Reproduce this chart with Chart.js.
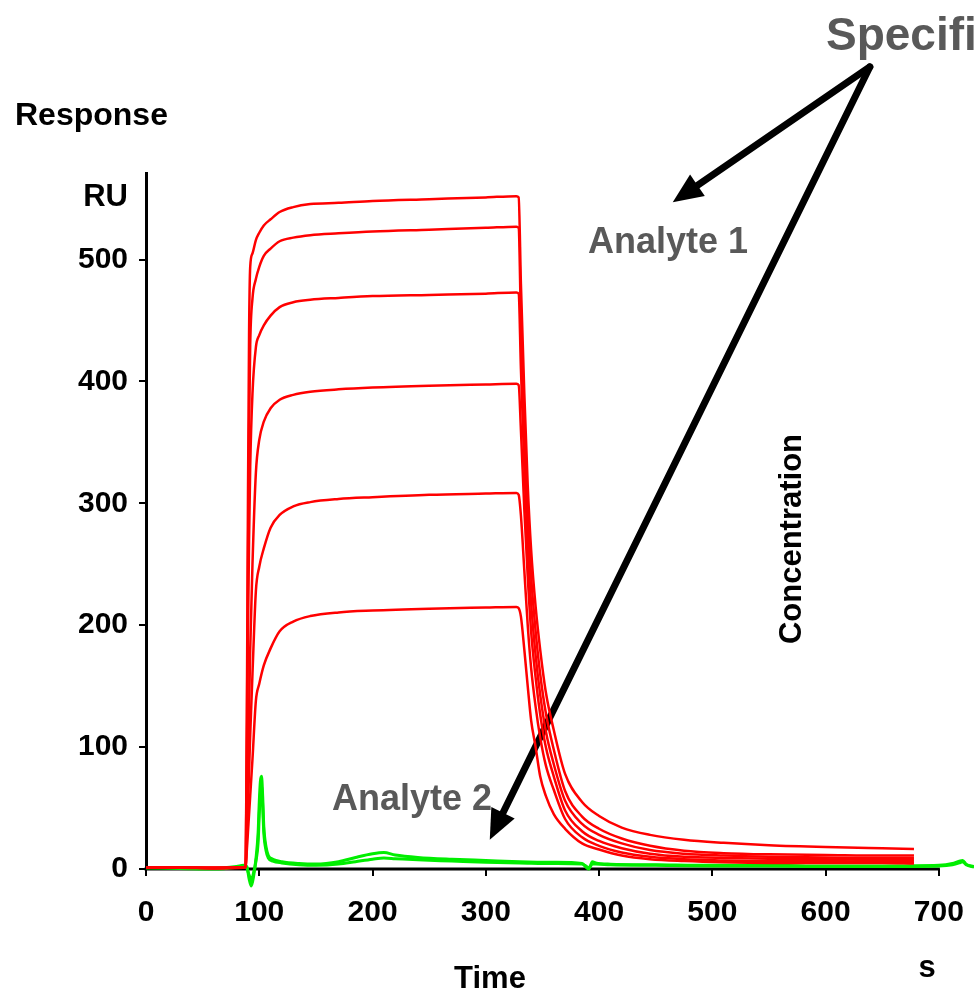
<!DOCTYPE html>
<html>
<head>
<meta charset="utf-8">
<script src="https://cdn.jsdelivr.net/npm/chart.js@4.4.1/dist/chart.umd.min.js"></script>
<style>
  html, body { margin: 0; padding: 0; background: #fff; }
  #wrap { width: 974px; height: 994px; position: relative; }
</style>
</head>
<body>
<div id="wrap"><canvas id="myChart"></canvas></div>
<script>
// time axis (s) for the red sensorgrams: association then dissociation
const redTime = [0, 30, 60, 86, 88, 89, 90, 91, 92, 94, 97, 100, 104, 110, 118, 130, 145, 170, 200, 250, 300, 327,
                 329, 331, 334, 337, 340, 344, 348, 353, 360, 370, 385, 400, 420, 445, 475, 510, 550, 600, 650, 678];
// Analyte 1, six concentrations (RU)
const red1 = [1, 1.5, 0.5, 1, 2, 120, 300, 440, 494, 505, 516, 522, 528, 533, 539, 543, 545.5, 546.5, 548, 549.5, 551, 552,
              551, 480, 390, 315, 262, 215, 180, 145, 114, 78, 55, 43.5, 34, 28, 24, 21.5, 19.5, 18, 17, 16.5];
const red2 = [1, 1, 1, 1, 2, 100, 250, 360, 430, 468, 484, 494, 503, 509, 515, 518, 520, 521.5, 523, 524.5, 526, 527,
              526, 450, 360, 290, 240, 195, 160, 128, 98, 64, 43, 33, 25, 19, 15, 13, 12, 11.5, 11, 11];
const red3 = [1, 1, 0.5, 1, 2, 80, 190, 270, 330, 390, 428, 438, 446, 454, 461, 465, 467, 468.5, 470, 471, 472, 473,
              472, 410, 330, 265, 218, 175, 143, 113, 86, 56, 37, 28, 21, 15.5, 12.5, 11, 10, 9.5, 9, 9];
const red4 = [1, 1, 1, 1, 2, 35, 80, 130, 180, 250, 325, 352, 367, 378, 385, 389, 391.5, 393.5, 395, 396.5, 397.5, 398,
              397, 360, 295, 240, 195, 157, 127, 100, 76, 48, 31, 23, 17, 12.5, 10, 9, 8.5, 8, 7.5, 7.5];
const red5 = [1, 1, 1, 1, 2, 25, 50, 80, 110, 160, 228, 248, 263, 280, 290.5, 297.5, 301, 303.5, 305, 307, 308, 308.5,
              307, 290, 245, 200, 165, 133, 108, 85, 65, 41, 26, 19, 13.5, 10, 8, 7, 6.5, 6.5, 6, 6];
const red6 = [1, 1, 1, 1, 2, 15, 30, 45, 60, 90, 138, 152, 167, 181, 195, 203, 207.5, 210.5, 212, 213.5, 214.5, 215,
              214, 207, 180, 150, 122, 100, 76, 60, 45, 33, 21, 16, 11, 8, 6.5, 5.5, 5, 5, 5, 4.5];

// Analyte 2, two runs
const greenTime = [0, 30, 60, 80, 86, 89, 91, 93, 95, 97, 99, 100, 101, 102, 103, 104, 106, 108, 112, 120, 135, 150, 170, 185,
                   200, 210, 220, 240, 270, 300, 330, 360, 385, 389, 391, 394, 397, 410, 450, 500, 550, 600, 650, 700,
                   712, 718, 721, 724, 731];
const greenA = [1, 1, 0.5, 2, 3, 2, -8, -14, -6, 8, 30, 55, 72, 76, 60, 35, 18, 11, 8, 6, 4.5, 4, 6, 9.5,
                12.5, 13.5, 11.5, 9.5, 8, 7, 6, 5.5, 4.5, 1, 0, 6, 5, 4, 3.5, 3, 3, 2.5, 2.5, 3,
                4.5, 6.5, 7, 4, 2];
const greenB = [1, 0.5, 0, 1.5, 2.5, 1, -5, -9, -3, 6, 22, 45, 62, 68, 52, 30, 15, 9, 6.5, 5, 3.5, 3, 4, 6,
                8, 9, 8.5, 7.5, 6.5, 5.5, 5, 4.5, 4, 2, 1, 4, 4, 3.5, 3, 2.5, 2.5, 2, 2, 2.5,
                3.5, 5, 6, 3.5, 1.5];

const xTicks = [0, 100, 200, 300, 400, 500, 600, 700];
const yTicks = [0, 100, 200, 300, 400, 500];
const xAxisEnd = 700;   // the drawn x axis line stops at the last tick

// arrows, in data units (from the "Specifi..." label to each analyte)
const arrowFrom = [639, 658];
const arrowTo1 = [465, 547];
const arrowTo2 = [303.5, 24];

const FONT = '"Liberation Sans", Arial, sans-serif';
const GRAY = '#595959';

function pts(t, v) {
    return t.map((x, i) => ({ x: x, y: v[i] }));
}

const redSets = [red1, red2, red3, red4, red5, red6].map(v => ({
    data: pts(redTime, v),
    borderColor: '#ff0000',
    borderWidth: 2.5,
    pointRadius: 0,
    cubicInterpolationMode: 'monotone',
    clip: false
}));
const greenSets = [greenA, greenB].map(v => ({
    data: pts(greenTime, v),
    borderColor: '#00ee00',
    borderWidth: 3,
    pointRadius: 0,
    cubicInterpolationMode: 'monotone',
    clip: false
}));

function arrow(ctx, x1, y1, x2, y2) {
    const ang = Math.atan2(y2 - y1, x2 - x1);
    const head = 30, half = 13;
    const bx = x2 - Math.cos(ang) * head;
    const by = y2 - Math.sin(ang) * head;
    ctx.beginPath();
    ctx.moveTo(x1, y1);
    ctx.lineTo(bx, by);
    ctx.stroke();
    ctx.beginPath();
    ctx.moveTo(x2, y2);
    ctx.lineTo(bx + Math.sin(ang) * half, by - Math.cos(ang) * half);
    ctx.lineTo(bx - Math.sin(ang) * half, by + Math.cos(ang) * half);
    ctx.closePath();
    ctx.fill();
}

const annotations = {
    id: 'annotations',
    beforeDatasetsDraw(chart) {
        const ctx = chart.ctx;
        const sx = chart.scales.x, sy = chart.scales.y;
        const px = p => [sx.getPixelForValue(p[0]), sy.getPixelForValue(p[1])];
        ctx.save();
        // x axis line, only up to the last tick
        const y0 = sy.getPixelForValue(0);
        ctx.strokeStyle = '#000';
        ctx.lineWidth = 3;
        ctx.beginPath();
        ctx.moveTo(sx.getPixelForValue(0) - 1.5, y0);
        ctx.lineTo(sx.getPixelForValue(xAxisEnd) + 1, y0);
        ctx.stroke();

        const a = px(arrowFrom), b = px(arrowTo1), c = px(arrowTo2);
        ctx.fillStyle = '#000';
        ctx.lineWidth = 7;
        ctx.lineCap = 'round';
        arrow(ctx, a[0], a[1], b[0], b[1]);
        arrow(ctx, a[0], a[1], c[0], c[1]);
        ctx.restore();
    },
    afterDraw(chart) {
        const ctx = chart.ctx;
        ctx.save();
        ctx.fillStyle = '#000';
        ctx.textBaseline = 'alphabetic';
        ctx.font = 'bold 32px ' + FONT;
        ctx.textAlign = 'left';
        ctx.fillText('Response', 15, 125);
        ctx.font = 'bold 31px ' + FONT;
        ctx.textAlign = 'right';
        ctx.fillText('RU', 128, 206);
        ctx.textAlign = 'center';
        ctx.fillText('Time', 490, 988);
        ctx.fillText('s', 927, 977);

        ctx.save();
        ctx.translate(801, 539);
        ctx.rotate(-Math.PI / 2);
        ctx.font = 'bold 31px ' + FONT;
        ctx.textAlign = 'center';
        ctx.fillText('Concentration', 0, 0);
        ctx.restore();

        ctx.fillStyle = GRAY;
        ctx.font = 'bold 36px ' + FONT;
        ctx.textAlign = 'center';
        ctx.fillText('Analyte 1', 668, 253);
        ctx.fillText('Analyte 2', 412, 810);
        ctx.font = 'bold 46px ' + FONT;
        ctx.textAlign = 'left';
        ctx.fillText('Specificity', 826, 50);
        ctx.restore();
    }
};

const chart = new Chart(document.getElementById('myChart'), {
    type: 'line',
    data: { datasets: redSets.concat(greenSets) },
    options: {
        responsive: true,
        maintainAspectRatio: false,
        animation: false,
        layout: { padding: { top: 173, right: 0, left: 0, bottom: 0 } },
        plugins: { legend: { display: false }, tooltip: { enabled: false } },
        scales: {
            x: {
                type: 'linear',
                min: 0,
                max: 731,
                afterBuildTicks: s => { s.ticks = xTicks.map(v => ({ value: v })); },
                afterFit: s => { s.height = 125; s.paddingRight = 0; s.paddingLeft = 0; },
                ticks: { color: '#000', padding: 19, font: { family: FONT, size: 30, weight: 'bold' } },
                grid: { drawOnChartArea: false, drawTicks: true, tickLength: 7, color: '#000', lineWidth: 2 },
                border: { display: false }
            },
            y: {
                type: 'linear',
                min: 0,
                max: 571,
                afterBuildTicks: s => { s.ticks = yTicks.map(v => ({ value: v })); },
                afterFit: s => { s.width = 146; s.paddingTop = 0; s.paddingBottom = 0; },
                ticks: { color: '#000', padding: 11, font: { family: FONT, size: 30, weight: 'bold' } },
                grid: { drawOnChartArea: false, drawTicks: true, tickLength: 7, color: '#000', lineWidth: 2 },
                border: { color: '#000', width: 3 }
            }
        }
    },
    plugins: [annotations]
});
</script>
</body>
</html>
